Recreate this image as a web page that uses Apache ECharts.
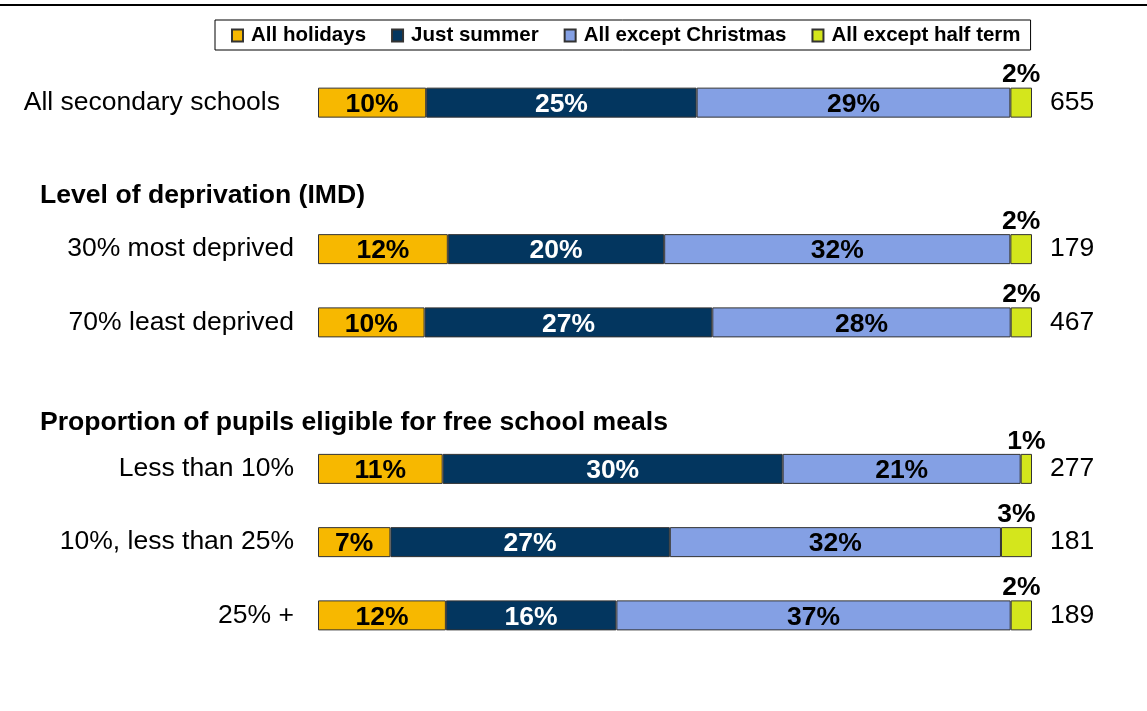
<!DOCTYPE html>
<html style="height: 100%">

<head>
    <meta charset="utf-8">
</head>

<body style="height: 100%; margin: 0; background: #fff">
    <div id="container" style="height: 100%"></div>
    <script src="https://cdn.jsdelivr.net/npm/echarts@6/dist/echarts.min.js"></script>
    <script type="text/javascript">
        // rows, top to bottom; '' rows are the section header gaps
        var groups = ['All secondary schools', '', '30% most deprived', '70% least deprived', '',
            'Less than 10%', '10%, less than 25%', '25% +'];
        var seriesNames = ['All holidays', 'Just summer', 'All except Christmas', 'All except half term'];
        var allHolidays = [10, null, 12, 10, null, 11, 7, 12];
        var justSummer = [25, null, 20, 27, null, 30, 27, 16];
        var exceptChristmas = [29, null, 32, 28, null, 21, 32, 37];
        var exceptHalfTerm = [2, null, 2, 2, null, 1, 3, 2];
        var bases = [655, null, 179, 467, null, 277, 181, 189];
        var headers = ['Level of deprivation (IMD)', 'Proportion of pupils eligible for free school meals'];
        var colors = ['#F7B800', '#03365F', '#84A0E4', '#D4E61C'];

        var raw = [allHolidays, justSummer, exceptChristmas, exceptHalfTerm];
        // each bar is drawn as share of its own row total
        var totals = groups.map(function (g, i) {
            var t = 0;
            raw.forEach(function (s) { t += s[i] || 0 });
            return t;
        });

        var font = '"Liberation Sans", Arial, sans-serif';
        var dom = document.getElementById("container");
        var myChart = echarts.init(dom);

        var series = raw.map(function (vals, k) {
            return {
                name: seriesNames[k],
                type: 'bar',
                stack: 'all',
                barWidth: 30,
                data: vals.map(function (v, i) { return v == null ? null : v / totals[i] * 100 }),
                itemStyle: { color: colors[k], borderColor: '#333', borderWidth: 1 },
                label: {
                    show: true,
                    position: k == 3 ? 'top' : 'inside',
                    distance: 1,
                    offset: [0, 2],
                    fontFamily: font,
                    fontWeight: 'bold',
                    fontSize: 26.5,
                    color: k == 1 ? '#fff' : '#000',
                    formatter: function (p) { return vals[p.dataIndex] + '%' }
                },
                emphasis: { disabled: true }
            };
        });

        var option = {
            animation: false,
            legend: {
                data: seriesNames,
                icon: 'rect',
                left: 215,
                top: 20,
                padding: [5, 10, 4, 16],
                itemGap: 25,
                itemWidth: 11,
                itemHeight: 12,
                borderColor: '#000',
                borderWidth: 1,
                textStyle: {
                    fontFamily: font, fontWeight: 'bold', fontSize: 20.5, color: '#000',
                    padding: [0, 0, 0, 3]
                }
            },
            grid: { left: 318, right: 115, top: 66, bottom: 59 },
            xAxis: { type: 'value', min: 0, max: 100, show: false },
            yAxis: [{
                type: 'category',
                data: groups,
                inverse: true,
                axisLine: { show: false },
                axisTick: { show: false },
                axisLabel: {
                    interval: 0,
                    margin: 24,
                    fontFamily: font,
                    fontSize: 26.5,
                    color: '#000',
                    formatter: function (v, i) { return i == 0 ? '{p|' + v + '}' : v },
                    rich: { p: { padding: [0, 14, 0, 0], fontFamily: font, fontSize: 26.5, color: '#000' } }
                }
            }, {
                type: 'category',
                data: groups,
                inverse: true,
                position: 'right',
                axisLine: { show: false },
                axisTick: { show: false },
                axisLabel: {
                    interval: 0,
                    margin: 18,
                    fontFamily: font,
                    fontSize: 26.5,
                    color: '#000',
                    formatter: function (v, i) { return bases[i] == null ? '' : String(bases[i]) }
                }
            }],
            graphic: [{
                type: 'line',
                shape: { x1: 0, y1: 5, x2: 1147, y2: 5 },
                style: { stroke: '#000', lineWidth: 2 }
            }, {
                type: 'text', left: 40, top: 182,
                style: { text: headers[0], font: 'bold 26.6px ' + font, fill: '#000' }
            }, {
                type: 'text', left: 40, top: 409,
                style: { text: headers[1], font: 'bold 26.6px ' + font, fill: '#000' }
            }],
            series: series
        };

        myChart.setOption(option);
    </script>
</body>

</html>
